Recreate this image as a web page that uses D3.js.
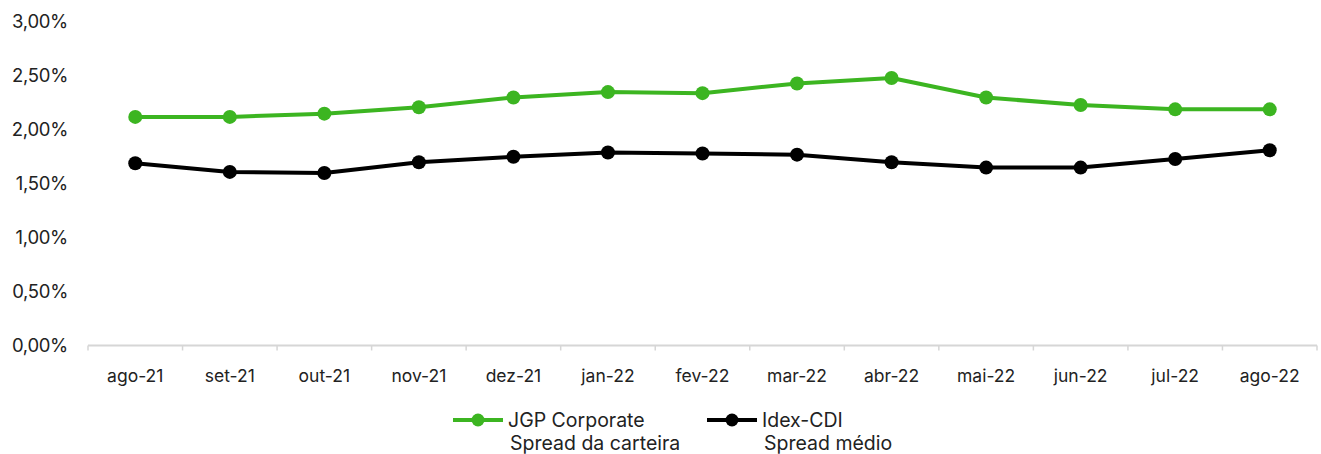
<!DOCTYPE html>
<html>
<head>
<meta charset="utf-8">
<script src="https://cdn.jsdelivr.net/npm/d3@7"></script>
<style>
  body { margin: 0; background: #fff; }
  text { font-family: Inter, "Noto Sans", sans-serif; fill: #222; }
</style>
</head>
<body>
<div id="chart"></div>
<script>
// months on the x axis
var months = ["ago-21", "set-21", "out-21", "nov-21", "dez-21", "jan-22", "fev-22",
              "mar-22", "abr-22", "mai-22", "jun-22", "jul-22", "ago-22"];
// JGP Corporate - spread da carteira (%)
var jgp = [2.12, 2.12, 2.15, 2.21, 2.30, 2.35, 2.34, 2.43, 2.48, 2.30, 2.23, 2.19, 2.19];
// Idex-CDI - spread medio (%)
var idex = [1.69, 1.61, 1.60, 1.70, 1.75, 1.79, 1.78, 1.77, 1.70, 1.65, 1.65, 1.73, 1.81];
var yTicks = [0, 0.5, 1, 1.5, 2, 2.5, 3];

var width = 1321, height = 454;
var margin = { top: 22, right: 4, bottom: 108, left: 88 };

var svg = d3.select("#chart")
    .append("svg")
    .attr("width", width)
    .attr("height", height);

var x = d3.scaleBand()
    .domain(months)
    .range([margin.left, width - margin.right]);

var y = d3.scaleLinear()
    .domain([0, 3])
    .range([height - margin.bottom - 0.5, margin.top]);

var fmt = function (v) { return d3.format(".2f")(v).replace(".", ",") + "%"; };

// y labels (no axis line, no grid)
svg.append("g")
    .selectAll("text")
    .data(yTicks)
    .enter()
    .append("text")
    .attr("x", 68)
    .attr("y", function (d) { return y(d); })
    .attr("dy", "0.35em")
    .attr("text-anchor", "end")
    .style("font-size", "18.5px")
    .style("letter-spacing", "-0.3px")
    .text(fmt);

// x axis with ticks between the categories
var xAxis = svg.append("g")
    .attr("transform", "translate(0," + y(0) + ")");
xAxis.append("line")
    .attr("x1", x.range()[0]).attr("x2", x.range()[1])
    .attr("stroke", "#d6d6d6").attr("stroke-width", 2);
xAxis.selectAll(".tk")
    .data(months.concat(["end"]))
    .enter()
    .append("line")
    .attr("class", "tk")
    .attr("x1", function (d, i) { return x.range()[0] + i * x.step(); })
    .attr("x2", function (d, i) { return x.range()[0] + i * x.step(); })
    .attr("y1", 0).attr("y2", 5)
    .attr("stroke", "#d6d6d6").attr("stroke-width", 1.5);
xAxis.selectAll(".lbl")
    .data(months)
    .enter()
    .append("text")
    .attr("class", "lbl")
    .attr("x", function (d) { return x(d) + x.bandwidth() / 2; })
    .attr("y", 30)
    .attr("dy", "0.35em")
    .attr("text-anchor", "middle")
    .style("font-size", "17.5px")
    .text(function (d) { return d; });

var series = [
    { name: "JGP Corporate", sub: "Spread da carteira", values: jgp, color: "#3cb521", width: 4, r: 7, lx: 453 },
    { name: "Idex-CDI", sub: "Spread médio", values: idex, color: "#000000", width: 4, r: 7, lx: 707 }
];

var line = d3.line()
    .x(function (d, i) { return x(months[i]) + x.bandwidth() / 2; })
    .y(function (d) { return y(d); });

series.forEach(function (s) {
    svg.append("path")
        .datum(s.values)
        .attr("fill", "none")
        .attr("stroke", s.color)
        .attr("stroke-width", s.width)
        .attr("stroke-linejoin", "round")
        .attr("d", line);

    svg.append("g")
        .selectAll("circle")
        .data(s.values)
        .enter()
        .append("circle")
        .attr("cx", function (d, i) { return x(months[i]) + x.bandwidth() / 2; })
        .attr("cy", function (d) { return y(d); })
        .attr("r", s.r)
        .attr("fill", s.color);

    // legend
    var lg = svg.append("g").attr("transform", "translate(" + s.lx + ",420)");
    lg.append("line").attr("x1", 0).attr("x2", 50)
        .attr("stroke", s.color).attr("stroke-width", s.width);
    lg.append("circle").attr("cx", 25).attr("r", 6.5).attr("fill", s.color);
    lg.append("text").attr("x", 55).attr("dy", "0.35em")
        .style("font-size", "19.5px").text(s.name);
    lg.append("text").attr("x", 57).attr("y", 23).attr("dy", "0.35em")
        .style("font-size", "19.5px").text(s.sub);
});
</script>
</body>
</html>
